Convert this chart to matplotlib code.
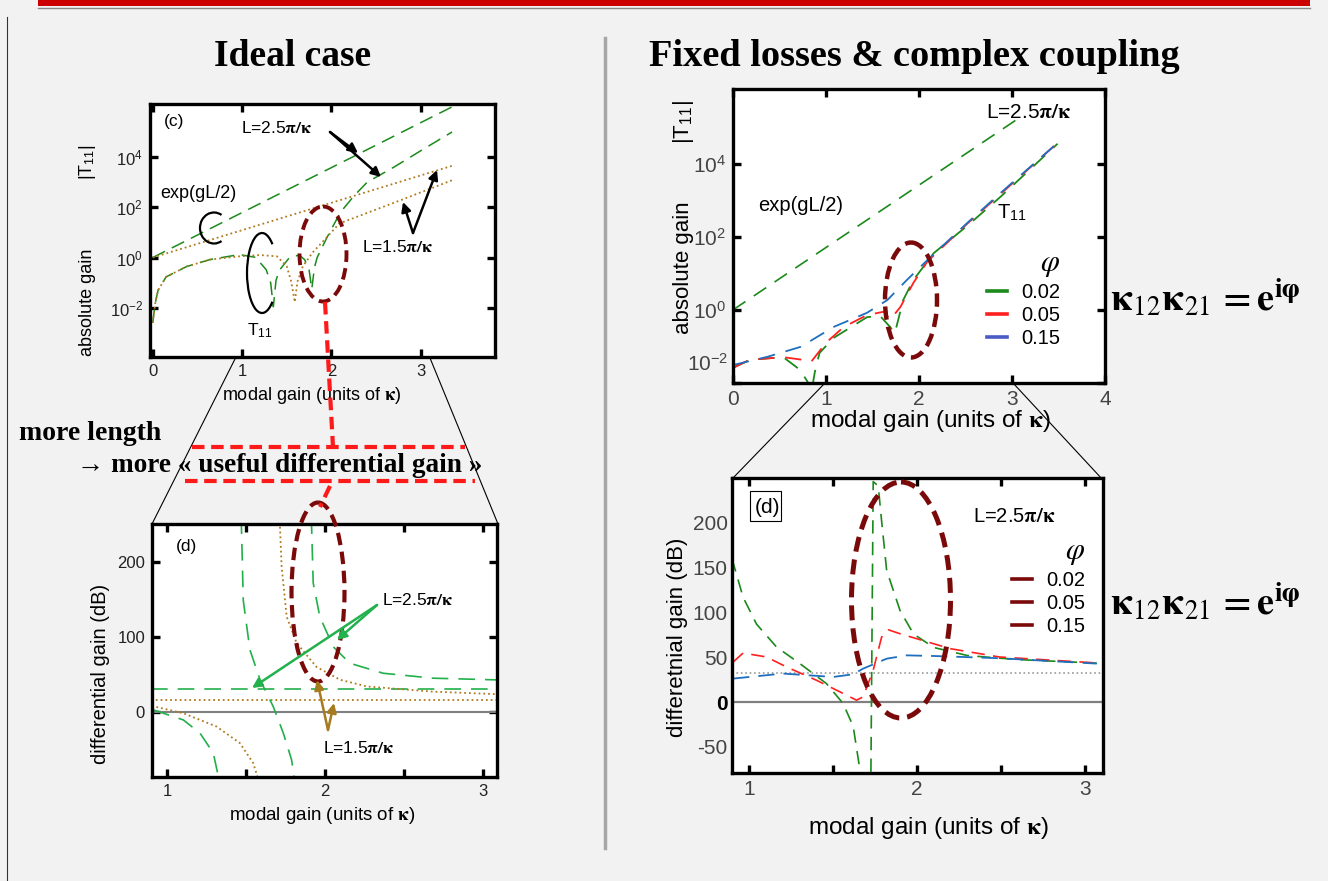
import matplotlib.pyplot as plt
from matplotlib.lines import Line2D
from matplotlib.patches import Arc, Ellipse, Rectangle

plt.rcParams['font.family'] = ['Liberation Sans', 'DejaVu Sans']
plt.rcParams['mathtext.fontset'] = 'stix'

W, H = 1328, 881
BG = '#f2f2f2'
SERIF = ['Liberation Serif', 'DejaVu Serif']
GREEN = '#1b8a1b'
LGREEN = '#22b04b'
BROWN = '#b07a1e'
RED = '#ff2020'
BLUE = '#1f6fbf'
DARKRED = '#7a0a0a'

# ---- (c) ideal case, |T11| vs modal gain ----
c_exp_g = [0.0, 3.35]
c_exp25 = [1.0, 1.0e6]           # exp(gL/2), L=2.5pi/k
c_exp15 = [1.0, 4.5e3]           # exp(gL/2), L=1.5pi/k
c_t25_g = [0.0, 0.03, 0.06, 0.15, 0.38, 0.64, 0.97, 1.15, 1.27, 1.32, 1.35, 1.38, 1.42,
           1.53, 1.64, 1.70, 1.75, 1.78, 1.81, 1.84, 1.95, 2.10, 2.25, 2.40, 2.70, 3.00, 3.35]
c_t25 = [2.5e-3, 1.6e-2, 5.0e-2, 0.17, 0.44, 0.83, 1.32, 1.02, 0.33, 0.10, 1.1e-2, 0.126, 0.32,
         1.0, 1.26, 0.83, 0.32, 5.6e-2, 0.4, 1.0, 6.3, 63, 280, 1.0e3, 4.0e3, 1.8e4, 1.0e5]
c_t15_g = [0.0, 0.03, 0.06, 0.15, 0.38, 0.64, 0.97, 1.2, 1.39, 1.5, 1.55, 1.59, 1.62, 1.68,
           1.79, 1.92, 2.09, 2.4, 2.77, 3.35]
c_t15 = [2.5e-3, 1.6e-2, 5.0e-2, 0.17, 0.44, 0.83, 1.12, 1.26, 1.12, 0.45, 0.11, 1.7e-2, 0.11,
         0.45, 1.6, 5.0, 23, 60, 190, 1.2e3]

# ---- (d) ideal case, differential gain ----
d_flat_g = [0.9, 3.1]
d_flat25 = [31, 31]
d_flat15 = [16, 16]
d_g25a = [0.913, 1.103, 1.209, 1.293, 1.325, 1.33]
d_v25a = [2.7, -10.7, -28.4, -55, -86, -95]
d_g25b = [1.47, 1.483, 1.525, 1.589, 1.673, 1.736, 1.789, 1.804, 1.81]
d_v25b = [260, 149, 83, 43, 7, -28, -64, -86, -95]
d_g25c = [1.914, 1.926, 1.968, 2.053, 2.158, 2.369, 2.686, 3.097]
d_v25c = [260, 172, 127, 87, 65, 51.6, 45, 42.7]
d_g15a = [0.903, 1.103, 1.314, 1.462, 1.546, 1.572, 1.575]
d_v15a = [8, -1.8, -19.6, -41.8, -68.4, -86, -95]
d_g15b = [1.713, 1.726, 1.758, 1.821, 1.947, 2.095, 2.264, 2.686, 3.097]
d_v15b = [260, 194, 127, 92, 60, 43, 34, 27, 23.6]

# ---- fixed losses & complex coupling, |T11| ----
phi = ['0.02', '0.05', '0.15']
r_exp_g = [0.0, 3.05]
r_exp = [1.0, 1.6e5]
r_g002 = [0.0, 0.18, 0.54, 0.72, 0.80, 0.84, 0.88, 0.93, 1.08, 1.44, 1.58, 1.69, 1.74, 1.83,
          1.94, 2.16, 2.52, 2.88, 3.49]
r_t002 = [2.6e-2, 4.3e-2, 5.1e-2, 2.3e-2, 1.1e-2, 5.0e-3, 2.0e-2, 6.6e-2, 0.17, 0.63, 0.69,
          0.34, 0.23, 1.86, 6.6, 36, 200, 1.26e3, 3.5e4]
r_g005 = [0.0, 0.18, 0.54, 0.75, 0.84, 1.0, 1.19, 1.44, 1.62, 1.69, 1.80, 1.94, 2.09, 2.52,
          2.88, 3.49]
r_t005 = [2.6e-2, 4.3e-2, 5.1e-2, 4.3e-2, 3.8e-2, 0.126, 0.34, 0.72, 0.89, 0.54, 1.2, 5.5, 21,
          230, 1.5e3, 3.7e4]
r_g015 = [0.0, 0.37, 0.73, 1.08, 1.44, 1.66, 1.87, 2.09, 2.52, 2.88, 3.49]
r_t015 = [3.1e-2, 5.2e-2, 9.8e-2, 0.34, 0.83, 1.86, 6.6, 23, 240, 1.6e3, 3.7e4]

# ---- fixed losses & complex coupling, differential gain ----
s_ref_g = [0.9, 3.11]
s_ref = [33, 33]
s_g002 = [0.90, 0.966, 1.046, 1.165, 1.304, 1.462, 1.561, 1.621, 1.661, 1.68, 1.725, 1.74,
          1.77, 1.79, 1.82, 1.90, 1.98, 2.10, 2.30, 2.60, 3.07]
s_v002 = [160, 117, 87, 61.5, 43, 20.7, -1.5, -27, -75.6, -110, -110, 246, 241, 202, 147, 102,
          76, 61, 52, 47.5, 43.5]
s_g005 = [0.907, 0.966, 1.105, 1.224, 1.403, 1.542, 1.641, 1.68, 1.74, 1.79, 1.83, 1.90, 2.0,
          2.2, 2.49, 3.07]
s_v005 = [44.8, 54.8, 50.4, 39.3, 24.4, 11.5, 2.2, 5.9, 35.6, 72.6, 80.7, 76.3, 70.7, 59.6,
          50.4, 43.7]
s_g015 = [0.907, 1.204, 1.502, 1.621, 1.68, 1.82, 1.94, 2.10, 2.49, 3.07]
s_v015 = [26.3, 31.9, 28.1, 31.1, 37.4, 48.5, 52.2, 51.5, 49, 43]

fig = plt.figure(figsize=(W / 100, H / 100), dpi=100, facecolor=BG)


def box(x0, y0, x1, y1):
    ax = fig.add_axes([x0 / W, 1 - y1 / H, (x1 - x0) / W, (y1 - y0) / H])
    for sp in ax.spines.values():
        sp.set_linewidth(2.4)
    return ax


def ftext(x, y, s, **kw):
    kw.setdefault('ha', 'center')
    kw.setdefault('va', 'center')
    return fig.text(x / W, 1 - y / H, s, **kw)


def ticks(ax, size, color):
    ax.tick_params(which='both', direction='in', length=6, width=2.4, top=True, right=True,
                   labelsize=size, labelcolor=color, pad=5)


def dec(p):
    return r'$\mathdefault{10^{%d}}$' % p


# (c)
ax = box(150, 104, 495, 357)
ax.set_yscale('log')
ax.plot(c_exp_g, c_exp25, color=GREEN, lw=1.1, ls=(0, (9, 5)))
ax.plot(c_exp_g, c_exp15, color=BROWN, lw=1.3, ls=':')
ax.plot(c_t25_g, c_t25, color=GREEN, lw=1.1, ls=(0, (9, 5)))
ax.plot(c_t15_g, c_t15, color=BROWN, lw=1.3, ls=':')
ax.set_xlim(-0.03, 3.83)
ax.set_ylim(1.1e-4, 1.3e6)
ax.set_xticks([0, 1, 2, 3])
ax.set_yticks([1e-2, 1, 1e2, 1e4], [dec(-2), dec(0), dec(2), dec(4)])
ax.minorticks_off()
ticks(ax, 12, '#222')
ax.text(0.04, 0.93, '(c)', transform=ax.transAxes, fontsize=12.5, ha='left', va='center')

# (d) ideal
ax = box(152, 524, 497, 777)
ax.axhline(0, color='#808080', lw=1.5)
ax.plot(d_flat_g, d_flat25, color=LGREEN, lw=1.2, ls=(0, (10, 6)))
ax.plot(d_flat_g, d_flat15, color=BROWN, lw=1.3, ls=':')
for gx, vy in [(d_g25a, d_v25a), (d_g25b, d_v25b), (d_g25c, d_v25c)]:
    ax.plot(gx, vy, color=LGREEN, lw=1.2, ls=(0, (10, 6)))
for gx, vy in [(d_g15a, d_v15a), (d_g15b, d_v15b)]:
    ax.plot(gx, vy, color=BROWN, lw=1.3, ls=':')
ax.set_xlim(0.905, 3.09)
ax.set_ylim(-87, 251)
ax.set_xticks([1, 2, 3])
ax.set_xticks([1.5, 2.5], minor=True)
ax.set_yticks([0, 100, 200])
ticks(ax, 12, '#222')
ax.text(0.07, 0.91, '(d)', transform=ax.transAxes, fontsize=12.5, ha='left', va='center')

# top right
ax = box(733, 89, 1105, 383)
ax.set_yscale('log')
ax.plot(r_exp_g, r_exp, color=GREEN, lw=1.2, ls=(0, (9, 6)))
ax.plot(r_g002, r_t002, color=GREEN, lw=1.3, ls=(0, (9, 6)))
ax.plot(r_g005, r_t005, color=RED, lw=1.3, ls=(0, (9, 6)))
ax.plot(r_g015, r_t015, color=BLUE, lw=1.3, ls=(0, (9, 6)))
ax.set_xlim(0, 4)
ax.set_ylim(1e-2, 1.1e6)
ax.set_xticks([0, 1, 2, 3, 4])
ax.set_yticks([1e-2, 1, 1e2, 1e4], ['', dec(0), dec(2), dec(4)])
ax.minorticks_off()
ticks(ax, 15, '#444')
ftext(728, 364, dec(-2), fontsize=15, color='#444', ha='right')
handles = [Line2D([], [], color=c, lw=2.6) for c in (GREEN, RED, '#4a5bc4')]
ax.legend(handles, phi, loc='upper right', bbox_to_anchor=(1078 / W, 1 - 230 / H),
          bbox_transform=fig.transFigure, frameon=False, fontsize=14.5, handlelength=1.0,
          handletextpad=0.7, labelspacing=0.2, title=r'$\varphi$', title_fontsize=22,
          alignment='right')
ax.text(0.068, 0.605, 'exp(gL/2)', transform=ax.transAxes, fontsize=14.5, ha='left',
        va='center')
ax.text(0.71, 0.58, r'T$_{\mathdefault{11}}$', transform=ax.transAxes, fontsize=14.5,
        ha='left', va='center')
ax.text(0.68, 0.92, r'L=2.5$\mathbf{\pi/\kappa}$', transform=ax.transAxes, fontsize=15,
        ha='left', va='center')

# bottom right
ax = box(732, 478, 1103, 773)
ax.axhline(0, color='#808080', lw=1.6)
ax.plot(s_ref_g, s_ref, color='#999999', lw=1.2, ls=':')
ax.plot(s_g002, s_v002, color=GREEN, lw=1.2, ls=(0, (8, 5)))
ax.plot(s_g005, s_v005, color=RED, lw=1.2, ls=(0, (8, 5)))
ax.plot(s_g015, s_v015, color=BLUE, lw=1.3, ls=(0, (9, 5)))
ax.set_xlim(0.9, 3.107)
ax.set_ylim(-79, 250)
ax.set_xticks([1, 2, 3])
ax.set_xticks([1.5, 2.5], minor=True)
ax.set_yticks([-50, 0, 50, 100, 150, 200], ['-50', '0', '50', '100', '150', '200'])
ax.set_yticks([0, 100, 200], minor=True)
ticks(ax, 15, '#444')
ax.tick_params(axis='y', which='major', length=0, pad=3)
for lbl in ax.get_yticklabels():
    if lbl.get_text() == '0':
        lbl.set_color('black')
        lbl.set_fontweight('bold')
handles = [Line2D([], [], color=DARKRED, lw=2.6) for _ in phi]
ax.legend(handles, phi, loc='upper right', bbox_to_anchor=(1103 / W, 1 - 518 / H),
          bbox_transform=fig.transFigure, frameon=False, fontsize=14.5, handlelength=1.0,
          handletextpad=0.7, labelspacing=0.2, title=r'$\varphi$', title_fontsize=22,
          alignment='right')
ax.text(0.65, 0.87, r'L=2.5$\mathbf{\pi/\kappa}$', transform=ax.transAxes, fontsize=14.5,
        ha='left', va='center')
ax.text(0.06, 0.9, '(d)', transform=ax.transAxes, fontsize=15, ha='left', va='center')

# axis labels
kap = r'$\mathbf{\kappa}$'
t11 = r'|T$_{\mathbf{\mathdefault{11}}}$|'
ftext(312, 395, 'modal gain (units of ' + kap + ')', fontsize=13)
ftext(322, 815, 'modal gain (units of ' + kap + ')', fontsize=13.5)
ftext(930, 421, 'modal gain (units of ' + kap + ')', fontsize=17.5)
ftext(928, 828, 'modal gain (units of ' + kap + ')', fontsize=17.5)
ftext(87, 302, 'absolute gain', fontsize=13, rotation=90)
ftext(87, 162, t11, fontsize=13, rotation=90)
ftext(101, 674, 'differential gain (dB)', fontsize=14.5, rotation=90)
ftext(684, 268, 'absolute gain', fontsize=16, rotation=90)
ftext(684, 122, t11, fontsize=16, rotation=90)
ftext(678, 637, 'differetnial gain (dB)', fontsize=16, rotation=90)

# titles and slide text
ftext(293, 56, 'Ideal case', fontsize=27, fontweight='bold', family=SERIF)
ftext(914, 56, 'Fixed losses & complex coupling', fontsize=27.6, fontweight='bold', family=SERIF)
ftext(19, 433, 'more length', fontsize=20, fontweight='bold', family=SERIF, ha='left')
ftext(77, 465, '\u2192 more \u00ab useful differential gain \u00bb', fontsize=19.6,
      fontweight='bold', family=SERIF + ['DejaVu Sans'], ha='left')
formula = r'$\mathbf{\kappa}_{12}\mathbf{\kappa}_{21}\,\mathbf{{=}e}^{\mathbf{i\varphi}}$'
ftext(1110, 298, formula, fontsize=27.5, ha='left')
ftext(1110, 602, formula, fontsize=27.5, ha='left')

# overlay for slide decorations
ov = fig.add_axes([0, 0, 1, 1], zorder=10)
ov.set_xlim(0, W)
ov.set_ylim(H, 0)
ov.axis('off')
ov.patch.set_alpha(0)

ov.add_patch(Rectangle((38, 0), 1272, 6, color='#cc0000', lw=0))
ov.plot([38, 1310], [7.5, 7.5], color='#888888', lw=1)
ov.plot([7, 7], [17, 881], color='#333333', lw=0.8)
ov.plot([605, 605], [38, 848], color='#a6a6a6', lw=2.5)

# zoom trapezoids
for x0, y0, x1, y1 in [(236, 357, 152, 524), (430, 358, 498, 524),
                       (825, 383, 733, 478), (1013, 383, 1103, 480)]:
    ov.plot([x0, x1], [y0, y1], color='black', lw=0.8)

# red dashed connectors
rd = dict(color='#ff1a1a', lw=3, ls=(0, (3, 1.6)), solid_capstyle='butt')
ov.plot([325, 333], [302, 447], **rd)
ov.plot([192, 465], [447, 447], **rd)
ov.plot([185, 475], [481, 481], **rd)
ov.plot([330, 320], [486, 507], **rd)

# highlight ellipses
for cx, cy, w, h, lw in [(323, 254, 47, 95, 2.8), (911, 300, 52, 115, 3.2),
                         (318, 592, 53, 179, 3.0), (901, 600, 99, 236, 3.6)]:
    ov.add_patch(Ellipse((cx, cy), w, h, fill=False, ec=DARKRED, lw=lw, ls=(0, (3, 1.6))))

# brackets
ov.add_patch(Arc((214, 228), 28, 31, theta1=60, theta2=300, color='black', lw=1.6))
ov.add_patch(Arc((262, 273), 30, 80, theta1=70, theta2=290, color='black', lw=1.6))
ov.add_patch(Rectangle((750, 491), 31, 30, fill=False, ec='black', lw=0.8))

# annotation text on the ideal-case panels
ov.text(241, 128, r'L=2.5$\mathbf{\pi/\kappa}$', fontsize=12.5, ha='left', va='center')
ov.text(160, 193, 'exp(gL/2)', fontsize=13, ha='left', va='center')
ov.text(247, 331, r'T$_{\mathdefault{11}}$', fontsize=12.5, ha='left', va='center')
ov.text(362, 247, r'L=1.5$\mathbf{\pi/\kappa}$', fontsize=12.5, ha='left', va='center')
ov.text(382, 600, r'L=2.5$\mathbf{\pi/\kappa}$', fontsize=12.5, ha='left', va='center')
ov.text(323, 748, r'L=1.5$\mathbf{\pi/\kappa}$', fontsize=12.5, ha='left', va='center')


def arrow(p0, p1, color, lw=1.8):
    ov.annotate('', xy=p1, xytext=p0,
                arrowprops=dict(arrowstyle='-|>', color=color, lw=lw,
                                mutation_scale=14, shrinkA=0, shrinkB=0))


arrow((330, 132), (358, 153), 'black')
arrow((330, 132), (381, 177), 'black')
arrow((413, 233), (403, 202), 'black')
arrow((413, 233), (437, 170), 'black')
arrow((377, 605), (252, 688), '#22b14c')
arrow((377, 605), (337, 640), '#22b14c')
arrow((328, 730), (317, 680), '#a67a1e')
arrow((328, 730), (334, 703), '#a67a1e')

fig.savefig('out.png', dpi=100, facecolor=BG)
